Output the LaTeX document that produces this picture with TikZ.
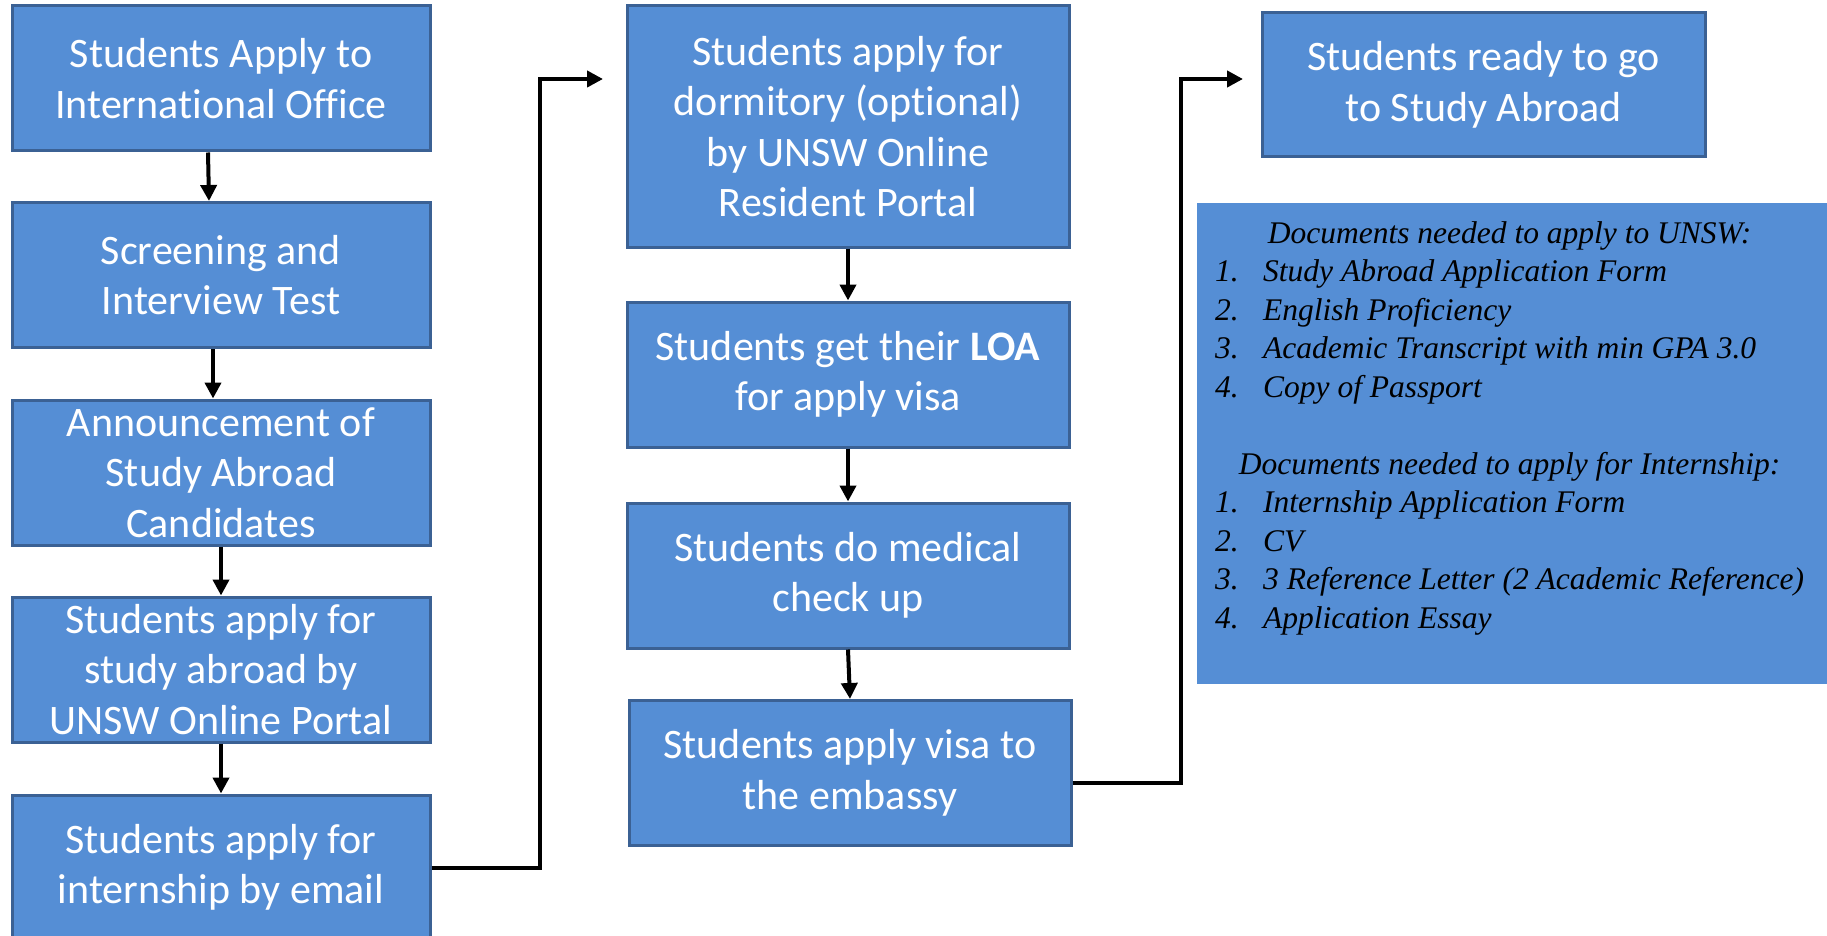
\documentclass[tikz,border=0pt]{standalone}
\usepackage{fontspec}
\setmainfont{Carlito}[Ligatures=CommonOff]
\newfontfamily\docfont{Liberation Serif}
\usepackage{xcolor}
\usepackage{tikz}
\usetikzlibrary{arrows.meta}

\definecolor{boxblue}{HTML}{558ED5}
\definecolor{boxline}{HTML}{3B6194}

\tikzset{
  stepbox/.style={draw=boxline, line width=3pt, fill=boxblue, text=white,
    align=center, inner sep=0pt, font=\fontsize{42}{50.5}\selectfont},
  leftbox/.style={stepbox, minimum width=418pt, minimum height=145pt},
  midbox/.style={stepbox, minimum width=442pt, minimum height=145pt},
  flow/.style={line width=4pt, -{Triangle[length=16pt,width=16pt]}}
}

\begin{document}
\begin{tikzpicture}[x=1pt, y=-1pt]
        \useasboundingbox (0,0) rectangle (1827,936);

        % Left column
        \node[leftbox] (apply) at (221,78.5) {Students Apply to\\International Office};
        \node[leftbox] (screen) at (221,275) {Screening and\\Interview Test};
        \node[leftbox] (announce) at (221,472.5) {Announcement of\\Study Abroad\\Candidates};
        \node[leftbox] (portal) at (221,669.5) {Students apply for\\study abroad by\\UNSW Online Portal};
        \node[leftbox] (intern) at (221,867.5) {Students apply for\\internship by email};

        % Middle column
        \node[midbox, minimum height=241pt] (dorm) at (848,126.5) {Students apply for\\dormitory (optional)\\by UNSW Online\\Resident Portal};
        \node[midbox] (loa) at (848,374.5) {Students get their \textbf{LOA}\\for apply visa};
        \node[midbox] (medical) at (848,575.5) {Students do medical\\check up};
        \node[midbox] (visa) at (850,773) {Students apply visa to\\the embassy};

        % Right column
        \node[midbox, minimum width=443pt, minimum height=144pt] (ready) at (1483.5,85) {Students ready to go\\to Study Abroad};

        % Documents box
        \fill[boxblue] (1197,203) rectangle (1840,684);
        \node[anchor=north west, inner sep=0pt,
              font=\docfont\itshape\fontsize{31.5}{38.5}\selectfont] (docs) at (1215,216) {%
          \begin{tabular}{@{}p{48pt}@{}l@{}}
            \multicolumn{2}{c}{Documents needed to apply to UNSW:}\\
            1. & Study Abroad Application Form\\
            2. & English Proficiency\\
            3. & Academic Transcript with min GPA 3.0\\
            4. & Copy of Passport\\
            \\
            \multicolumn{2}{c}{Documents needed to apply for Internship:}\\
            1. & Internship Application Form\\
            2. & CV\\
            3. & 3 Reference Letter (2 Academic Reference)\\
            4. & Application Essay\\
          \end{tabular}};

        % Arrows down the columns
        \draw[flow] ([xshift=-13pt]apply.south) -- ([xshift=-12pt]screen.north);
        \draw[flow] ([xshift=-8pt]screen.south) -- ([xshift=-8pt]announce.north);
        \draw[flow] (announce.south) -- (portal.north);
        \draw[flow] (portal.south) -- (intern.north);
        \draw[flow] (dorm.south) -- (loa.north);
        \draw[flow] (loa.south) -- (medical.north);
        \draw[flow] (medical.south) -- (visa.north);

        % Elbow connectors between columns
        \coordinate (bendA) at (540,79);
        \coordinate (tipA) at (603,79);
        \draw[flow] (intern.east) -| (bendA) -- (tipA);

        \coordinate (bendB) at (1181,79);
        \coordinate (tipB) at (1243,79);
        \draw[flow] ([yshift=-10pt]visa.east) -| (bendB) -- (tipB);

\end{tikzpicture}
\end{document}
